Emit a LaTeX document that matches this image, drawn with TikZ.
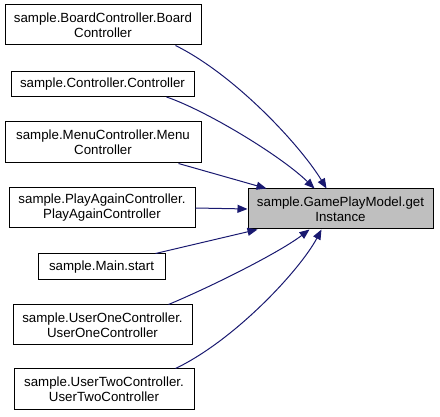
\documentclass[tikz,border=0pt]{standalone}
\usepackage{fontspec}
\setmainfont{Liberation Sans}
\usetikzlibrary{positioning,arrows.meta}
\definecolor{edgeblue}{RGB}{25,25,112}
\definecolor{tgtgray}{RGB}{191,191,191}
\tikzset{
  fbox/.style={draw=black,fill=white,line width=1pt,inner sep=0pt,align=center,font=\fontsize{13.3}{15}\selectfont},
  tbox/.style={fbox,fill=tgtgray},
  call/.style={draw=edgeblue,line width=1pt,-{Triangle[length=10pt,width=8pt]}},
  every picture/.style={x=1pt,y=-1pt}
}
\begin{document}
\begin{tikzpicture}
        \useasboundingbox (0,0) rectangle (440,417);
        \node[fbox,minimum width=196pt,minimum height=40pt] (board) at (103,25) {sample.BoardController.Board\\Controller};
        \node[fbox,minimum width=183pt,minimum height=25pt] (ctrl) at (102.5,84) {sample.Controller.Controller};
        \node[fbox,minimum width=196pt,minimum height=41pt] (menu) at (103,142.5) {sample.MenuController.Menu\\Controller};
        \node[fbox,minimum width=186pt,minimum height=40pt] (again) at (102,208) {sample.PlayAgainController.\\PlayAgainController};
        \node[fbox,minimum width=127pt,minimum height=26pt] (start) at (101.5,267) {sample.Main.start};
        \node[fbox,minimum width=179pt,minimum height=40pt] (userone) at (102.5,325) {sample.UserOneController.\\UserOneController};
        \node[fbox,minimum width=180pt,minimum height=41pt] (usertwo) at (104,389.5) {sample.UserTwoController.\\UserTwoController};
        \node[tbox,minimum width=185pt,minimum height=40pt] (inst) at (340.5,209) {sample.GamePlayModel.get\\Instance};
        % callers
        \draw[call] ([xshift=-26pt]board.south east) .. controls (235,75) and (300,145) .. ([xshift=79pt]inst.north west);
        \draw[call] ([xshift=-28pt]ctrl.south east) .. controls (205,110) and (280,155) .. ([xshift=67pt]inst.north west);
        \draw[call] ([xshift=-23pt]menu.south east) -- ([xshift=19pt]inst.north west);
        \draw[call] (again.east) -- (inst.west);
        \draw[call] ([xshift=-10pt]start.north east) -- ([xshift=10pt]inst.south west);
        \draw[call] ([xshift=-24pt]userone.north east) .. controls (215,285) and (280,252) .. ([xshift=62pt]inst.south west);
        \draw[call] ([xshift=-19pt]usertwo.north east) .. controls (235,340) and (300,270) .. ([xshift=74pt]inst.south west);
\end{tikzpicture}
\end{document}
